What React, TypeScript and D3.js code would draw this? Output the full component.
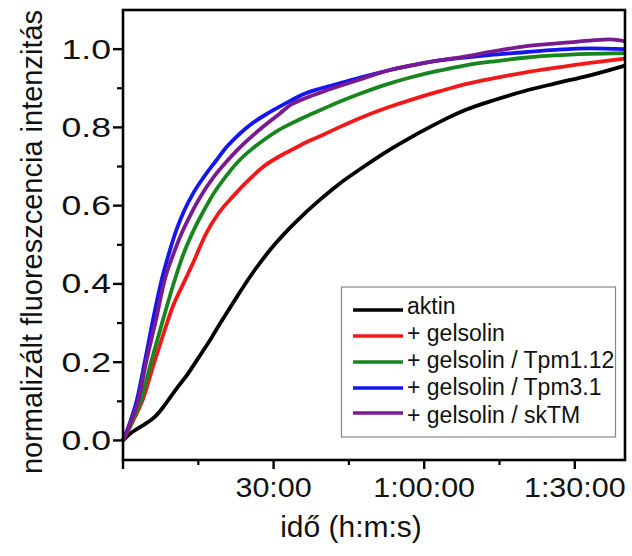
import React from 'react';
import * as d3 from 'd3';

// ---- data (time in minutes, normalized intensity) ----
const aktinT = [0, 1.5, 3.4, 5, 6.5, 8, 9.3, 11, 12.7, 14.3, 16, 17.7, 19.3, 21, 22.6, 24.6, 26.5, 28.5, 30.5, 33, 36, 39.5, 43, 48, 53, 57, 61, 64.5, 68.3, 74, 80, 86, 93, 100];
const aktinV = [0, 0.018, 0.034, 0.047, 0.062, 0.085, 0.108, 0.138, 0.166, 0.197, 0.23, 0.264, 0.298, 0.333, 0.365, 0.405, 0.44, 0.474, 0.505, 0.54, 0.578, 0.618, 0.655, 0.7, 0.742, 0.772, 0.8, 0.823, 0.845, 0.87, 0.893, 0.912, 0.933, 0.958];

const gelT = [0, 2, 4, 6, 8, 10, 12, 14, 16.6, 19, 22, 25, 28, 31, 34, 37, 40, 43, 48, 53, 58, 63, 68, 74, 80, 86, 93, 100];
const gelV = [0, 0.05, 0.106, 0.19, 0.27, 0.345, 0.4, 0.455, 0.53, 0.58, 0.625, 0.665, 0.7, 0.725, 0.745, 0.765, 0.782, 0.8, 0.828, 0.852, 0.873, 0.892, 0.91, 0.926, 0.94, 0.952, 0.965, 0.976];

const tpm112T = [0, 1.7, 3.5, 5.7, 8, 10.3, 12, 14, 16, 18, 20.5, 23.2, 26, 28.6, 31, 34, 37, 40, 43, 48, 53, 58, 63, 68, 74, 80, 86, 93, 100];
const tpm112V = [0, 0.045, 0.1, 0.205, 0.31, 0.41, 0.475, 0.535, 0.585, 0.63, 0.675, 0.716, 0.748, 0.773, 0.793, 0.813, 0.831, 0.848, 0.865, 0.89, 0.912, 0.93, 0.945, 0.958, 0.969, 0.978, 0.984, 0.988, 0.99];

const tpm31T = [0, 1.5, 2.7, 4.4, 6, 7.7, 9.2, 10.7, 12.3, 14, 16.2, 18.6, 20.5, 22.6, 24.5, 26.6, 29, 31.2, 33.5, 35.8, 39, 43, 48, 53, 57, 61, 67, 73, 80, 86, 93, 100];
const tpm31V = [0, 0.05, 0.1, 0.205, 0.31, 0.41, 0.48, 0.54, 0.59, 0.632, 0.675, 0.716, 0.748, 0.776, 0.798, 0.818, 0.837, 0.853, 0.869, 0.884, 0.898, 0.912, 0.93, 0.946, 0.957, 0.967, 0.977, 0.985, 0.992, 0.998, 1.002, 1.0];

const sktmT = [0, 1.5, 3, 4.7, 6.6, 8.3, 10, 11.7, 13.5, 15.3, 18, 20.6, 22.6, 24.6, 27, 29.2, 31.2, 33.2, 36.4, 40, 43, 48, 53, 58, 63, 68, 74, 80, 86, 93, 97, 100];
const sktmV = [0, 0.045, 0.1, 0.205, 0.31, 0.41, 0.475, 0.53, 0.578, 0.62, 0.672, 0.712, 0.74, 0.765, 0.792, 0.815, 0.835, 0.856, 0.875, 0.892, 0.905, 0.926, 0.946, 0.96, 0.971, 0.981, 0.995, 1.007, 1.014, 1.022, 1.025, 1.02];

const seriesNames = ['aktin', '+ gelsolin', '+ gelsolin / Tpm1.12', '+ gelsolin / Tpm3.1', '+ gelsolin / skTM'];
const seriesColors = ['#000000', '#f01818', '#17861f', '#1515f0', '#7a1a90'];
const seriesT = [aktinT, gelT, tpm112T, tpm31T, sktmT];
const seriesV = [aktinV, gelV, tpm112V, tpm31V, sktmV];

const xMajorTicks = [0, 30, 60, 90];
const xMinorTicks = [15, 45, 75];
const xTickLabels = ['', '30:00', '1:00:00', '1:30:00'];
const yMajorTicks = [0, 0.2, 0.4, 0.6, 0.8, 1.0];
const yMinorTicks = [0.1, 0.3, 0.5, 0.7, 0.9];

const SANS = "'Liberation Sans', Arial, Helvetica, sans-serif";

export default function App() {
  const x = d3.scaleLinear().domain([0, 100]).range([123, 625]);
  const y = d3.scaleLinear().domain([-0.05, 1.1]).range([460, 10]);
  const line = d3
    .line<[number, number]>()
    .x((d) => x(d[0]))
    .y((d) => y(d[1]))
    .curve(d3.curveMonotoneX);

  const x0 = x.range()[0];
  const x1 = x.range()[1];
  const yb = y.range()[0];
  const yt = y.range()[1];

  const legendLineY = [310, 336, 362, 388, 413];
  const legendTextY = [314, 341, 368, 395, 423];

  return (
    <svg
      width={632}
      height={556}
      style={{ position: 'absolute', left: 0, top: 0, background: '#fff' }}
    >
      <rect x={0} y={0} width={632} height={556} fill="#fff" />
      {/* curves */}
      {seriesT.map((ts, i) => (
        <path
          key={i}
          d={line(ts.map((t, j) => [t, seriesV[i][j]] as [number, number])) || ''}
          fill="none"
          stroke={seriesColors[i]}
          strokeWidth={3.8}
          strokeLinejoin="round"
        />
      ))}
      {/* frame */}
      <rect x={x0} y={yt} width={x1 - x0} height={yb - yt} fill="none" stroke="#000" strokeWidth={2.6} />
      {/* y ticks */}
      {yMajorTicks.map((v) => (
        <g key={'ym' + v}>
          <line x1={x0 - 10} x2={x0} y1={y(v)} y2={y(v)} stroke="#000" strokeWidth={2.4} />
          <text
            transform={`translate(${x0 - 12},${y(v) + 9.5}) scale(1.32,1)`}
            textAnchor="end"
            style={{ fontFamily: SANS, fontSize: '27px' }}
            fill="#111"
          >
            {v.toFixed(1)}
          </text>
        </g>
      ))}
      {yMinorTicks.map((v) => (
        <line key={'yn' + v} x1={x0 - 6} x2={x0} y1={y(v)} y2={y(v)} stroke="#000" strokeWidth={2.2} />
      ))}
      {/* x ticks */}
      {xMajorTicks.map((t, i) => (
        <g key={'xm' + t}>
          <line x1={x(t)} x2={x(t)} y1={yb} y2={yb + 9} stroke="#000" strokeWidth={2.4} />
          <text
            transform={`translate(${x(t)},497) scale(1.13,1)`}
            textAnchor="middle"
            style={{ fontFamily: SANS, fontSize: '27px' }}
            fill="#111"
          >
            {xTickLabels[i]}
          </text>
        </g>
      ))}
      {xMinorTicks.map((t) => (
        <line key={'xn' + t} x1={x(t)} x2={x(t)} y1={yb} y2={yb + 5} stroke="#000" strokeWidth={2.2} />
      ))}
      {/* axis titles */}
      <text
        transform="translate(42,242) rotate(-90)"
        textAnchor="middle"
        style={{ fontFamily: SANS, fontSize: '29px' }}
        fill="#111"
      >
        normalizált fluoreszcencia intenzitás
      </text>
      <text
        x={351}
        y={537}
        textAnchor="middle"
        style={{ fontFamily: SANS, fontSize: '30px' }}
        fill="#111"
      >
        idő (h:m:s)
      </text>
      {/* legend */}
      <rect x={341.5} y={287} width={274} height={150} fill="#fff" stroke="#888" strokeWidth={1.2} />
      {seriesNames.map((n, i) => (
        <g key={'lg' + i}>
          <line x1={353} x2={403} y1={legendLineY[i]} y2={legendLineY[i]} stroke={seriesColors[i]} strokeWidth={3.6} />
          <text
            x={407}
            y={legendTextY[i]}
            style={{ fontFamily: SANS, fontSize: '23px' }}
            fill="#111"
          >
            {n}
          </text>
        </g>
      ))}
    </svg>
  );
}
